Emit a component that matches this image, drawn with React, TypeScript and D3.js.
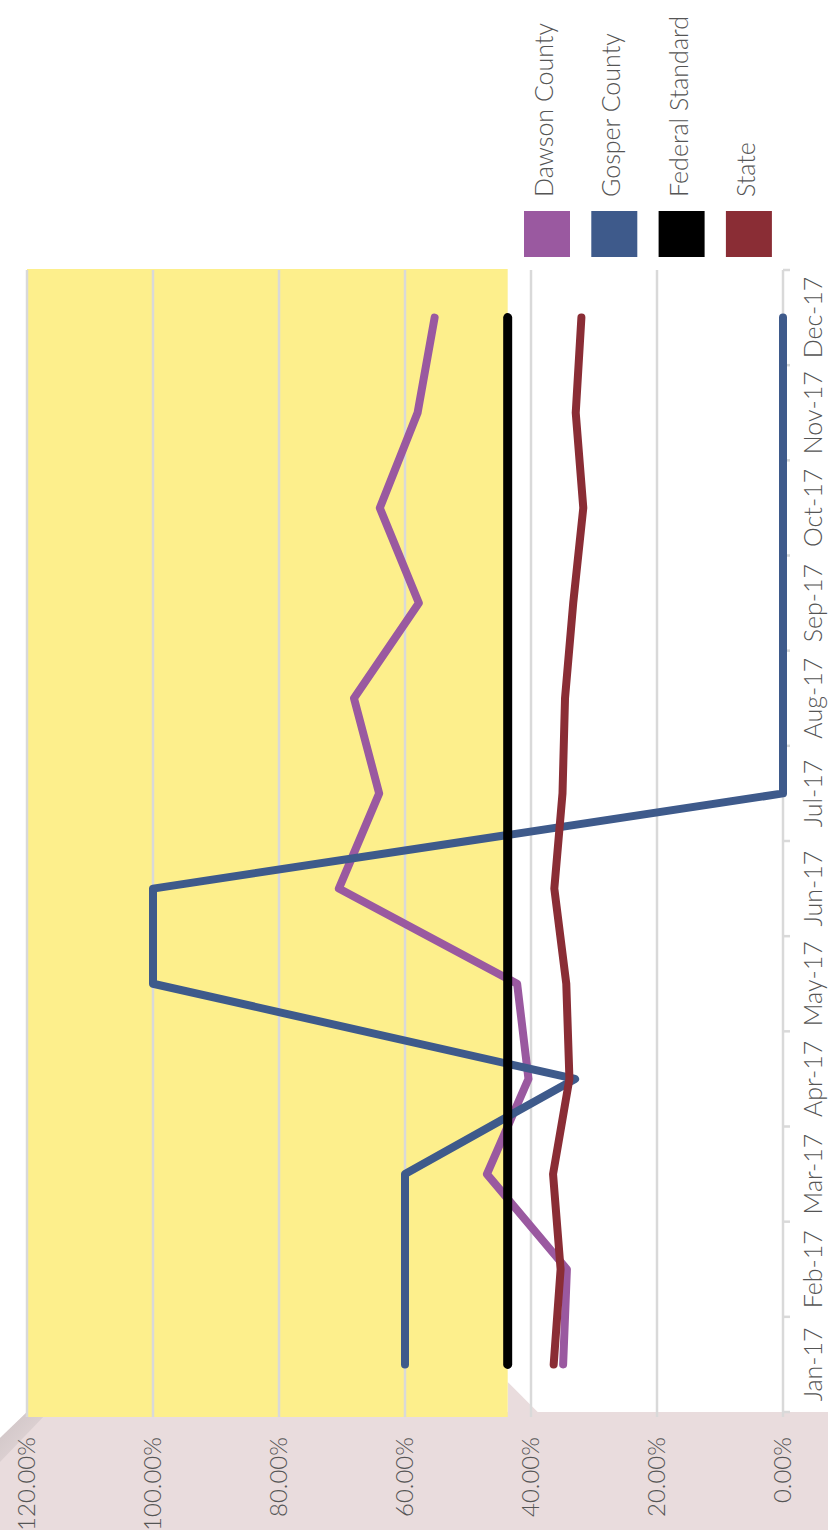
import * as d3 from 'd3';

const WIDTH = 828;
const HEIGHT = 1530;

// rotated chart: values run right -> left, months run bottom -> top
const PLOT = { top: 270, bottom: 1412, zero: 783, max: 27 };

const months = ['Jan-17', 'Feb-17', 'Mar-17', 'Apr-17', 'May-17', 'Jun-17',
  'Jul-17', 'Aug-17', 'Sep-17', 'Oct-17', 'Nov-17', 'Dec-17'];

const dawson = [34.9, 34.3, 47.0, 40.4, 42.2, 70.5, 64.1, 68.1, 57.8, 64.0, 58.0, 55.3];
const gosper = [60, 60, 60, 33.0, 100, 100, 0, 0, 0, 0, 0, 0];
const federal = [43.7, 43.7, 43.7, 43.7, 43.7, 43.7, 43.7, 43.7, 43.7, 43.7, 43.7, 43.7];
const state = [36.4, 35.3, 36.5, 33.9, 34.4, 36.3, 35.0, 34.6, 33.3, 31.7, 32.9, 32.0];

const yTicks = [0, 20, 40, 60, 80, 100, 120];

const series = [
  { name: 'Dawson County', color: '#9a59a0', values: dawson },
  { name: 'Gosper County', color: '#3e5a8b', values: gosper },
  { name: 'Federal Standard', color: '#000000', values: federal },
  { name: 'State', color: '#8a2d35', values: state },
];

const FONT = "'Lato', 'Open Sans', sans-serif";
const TEXT = '#555555';

export default function App() {
  const y = d3.scaleBand()
    .domain(months)
    .range([PLOT.bottom, PLOT.top])
    .padding(0);

  const x = d3.scaleLinear()
    .domain([0, 120])
    .range([PLOT.zero, PLOT.max]);

  const mid = (m) => (y(m) || 0) + y.bandwidth() / 2;

  const line = d3.line()
    .x((d) => x(d[1]))
    .y((d) => mid(d[0]));

  const fmt = (v) => d3.format('.2f')(v) + '%';
  const boundaries = months.map((m) => (y(m) || 0) + y.bandwidth()).concat([PLOT.top]);
  const gridBottom = PLOT.bottom + 5;
  const fedX = x(federal[0]);

  return (
    <svg
      width={WIDTH}
      height={HEIGHT}
      viewBox={`0 0 ${WIDTH} ${HEIGHT}`}
      style={{ position: 'absolute', left: 0, top: 0, display: 'block', background: '#fff' }}
    >
      <defs>
        <linearGradient id="corner" x1="0" y1="0" x2="1" y2="1">
          <stop offset="0" stopColor="#c6bcbe" />
          <stop offset="1" stopColor="#e9dcdd" />
        </linearGradient>
      </defs>

      {/* floor */}
      <polygon
        points={`0,1438 ${PLOT.max},${PLOT.bottom} ${WIDTH},${PLOT.bottom} ${WIDTH},${HEIGHT} 0,${HEIGHT}`}
        fill="#e9dcdd"
      />
      <polygon
        points={`0,1438 ${PLOT.max},${PLOT.bottom} 48,${PLOT.bottom} 0,1462`}
        fill="url(#corner)"
        opacity={0.8}
      />
      <polygon
        points={`${fedX},${PLOT.bottom - 30} ${fedX + 30},${PLOT.bottom} ${fedX},${PLOT.bottom}`}
        fill="#e9dcdd"
      />

      {/* highlight band above the federal standard */}
      <rect
        x={x(120)}
        y={PLOT.top - 1}
        width={fedX - x(120)}
        height={gridBottom - PLOT.top + 1}
        fill="#fdef8c"
      />

      {/* gridlines */}
      {yTicks.map((t) => (
        <line
          key={t}
          x1={x(t)}
          x2={x(t)}
          y1={PLOT.top}
          y2={gridBottom}
          stroke="#d9d9d9"
          strokeWidth={2.5}
        />
      ))}
      {boundaries.map((b, i) => (
        <line key={i} x1={PLOT.zero} x2={PLOT.zero + 7} y1={b} y2={b} stroke="#d9d9d9" strokeWidth={2.5} />
      ))}

      {/* series */}
      {series.map((s) => (
        <path
          key={s.name}
          d={line(months.map((m, i) => [m, s.values[i]])) || ''}
          fill="none"
          stroke={s.color}
          strokeWidth={s.name === 'Federal Standard' ? 9 : 8}
          strokeLinecap="round"
          strokeLinejoin="round"
        />
      ))}

      {/* month labels */}
      {months.map((m) => (
        <text
          key={m}
          transform={`translate(822,${mid(m)}) rotate(-90)`}
          textAnchor="middle"
          fontFamily={FONT}
          fontWeight={300}
          fontSize={25}
          fill={TEXT}
        >
          {m}
        </text>
      ))}

      {/* value labels */}
      {yTicks.map((t) => (
        <text
          key={t}
          transform={`translate(${x(t) + 8},1437) rotate(-90)`}
          textAnchor="end"
          fontFamily={FONT}
          fontWeight={300}
          fontSize={24}
          fill={TEXT}
        >
          {fmt(t)}
        </text>
      ))}

      {/* legend */}
      {series.map((s, i) => {
        const lx = 524 + i * 67.3;
        return (
          <g key={s.name}>
            <rect x={lx} y={211} width={46} height={46} fill={s.color} />
            <text
              transform={`translate(${lx + 29},197) rotate(-90)`}
              textAnchor="start"
              fontFamily={FONT}
              fontWeight={300}
              fontSize={25}
              fill={TEXT}
            >
              {s.name}
            </text>
          </g>
        );
      })}
    </svg>
  );
}
